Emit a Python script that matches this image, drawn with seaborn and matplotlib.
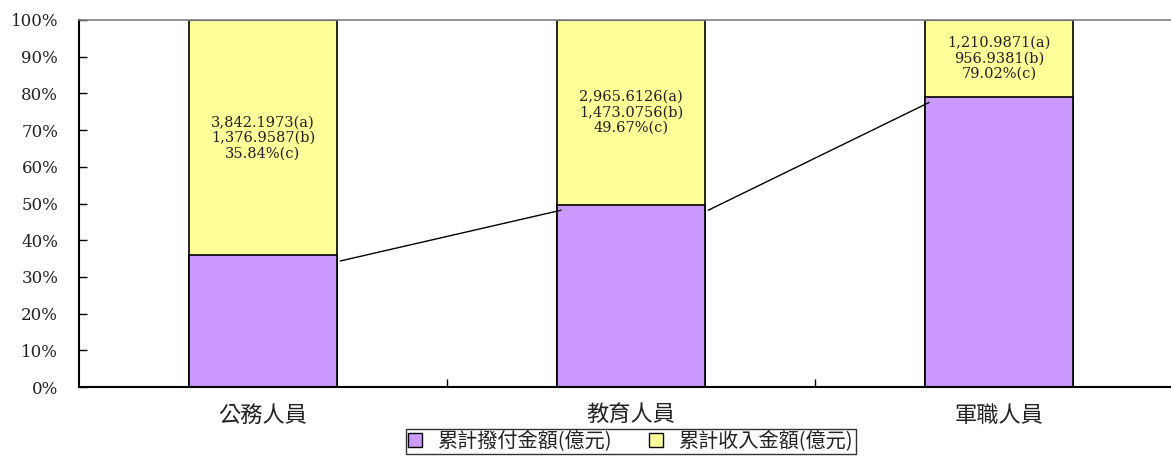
import matplotlib
matplotlib.use("Agg")
import matplotlib.pyplot as plt
from matplotlib.patches import Patch
from matplotlib.ticker import FixedLocator, FuncFormatter
import seaborn as sns
import pandas as pd

categories = ["公務人員", "教育人員", "軍職人員"]
income_a = [3842.1973, 2965.6126, 1210.9871]
paid_b = [1376.9587, 1473.0756, 956.9381]
ratio_c = [35.84, 49.67, 79.02]
series_names = ["累計撥付金額(億元)", "累計收入金額(億元)"]
yticks = [0, 10, 20, 30, 40, 50, 60, 70, 80, 90, 100]

df = pd.DataFrame({"cat": categories, "a": income_a, "b": paid_b, "c": ratio_c})
df["total"] = 100.0

sns.set_theme(style="white")
plt.rcParams["font.family"] = ["Noto Sans CJK TC", "DejaVu Sans"]

purple = "#CC99FF"
yellow = "#FFFF99"

fig = plt.figure(figsize=(11.71, 4.59), dpi=100)
W, H = 1171, 459
left, right, top, bottom = 79, 1183, 20, 387
ax = fig.add_axes([left / W, 1 - bottom / H, (right - left) / W, (bottom - top) / H])

sns.barplot(data=df, x="cat", y="total", color=yellow, width=0.4, edgecolor="black",
            linewidth=1.2, saturation=1, ax=ax)
sns.barplot(data=df, x="cat", y="c", color=purple, width=0.4, edgecolor="black",
            linewidth=1.2, saturation=1, ax=ax)

# series lines
for i in range(len(df) - 1):
    ax.plot([i + 0.21, i + 0.81], [df["c"][i] - 1.5, df["c"][i + 1] - 1.5],
            color="black", lw=1, zorder=3)

# annotations in yellow segment
for i, r in df.iterrows():
    ymid = (r["c"] + 100) / 2
    txt = f"{r['a']:,.4f}(a)\n{r['b']:,.4f}(b)\n{r['c']:.2f}%(c)"
    ax.text(i, ymid, txt, ha="center", va="center", multialignment="center",
            fontsize=10.5, family="DejaVu Serif", color="#222222", linespacing=1.13)

ax.set_xlim(-0.5, 2.5)
ax.set_ylim(0, 100)
ax.set_xlabel("")
ax.set_ylabel("")
ax.yaxis.set_major_locator(FixedLocator(yticks))
ax.yaxis.set_major_formatter(FuncFormatter(lambda v, p: f"{int(v)}%"))
for lab in ax.get_yticklabels():
    lab.set_family("DejaVu Serif")
ax.tick_params(axis="y", direction="in", length=6, width=1, pad=15, labelsize=12, left=True,
               color="black", labelcolor="#222222")
ax.tick_params(axis="x", which="major", length=0, pad=12, labelsize=16, labelcolor="#222222")
ax.xaxis.set_minor_locator(FixedLocator([0.5, 1.5, 2.5]))
ax.tick_params(axis="x", which="minor", direction="in", length=6, width=1, bottom=True, color="black")

for s in ["left", "bottom"]:
    ax.spines[s].set_color("black")
    ax.spines[s].set_linewidth(1.5)
ax.spines["top"].set_color("#808080")
ax.spines["top"].set_linewidth(1.2)
ax.spines["right"].set_visible(False)

handles = [Patch(facecolor=purple, edgecolor="black", label=series_names[0]),
           Patch(facecolor=yellow, edgecolor="black", label=series_names[1])]
leg = ax.legend(handles=handles, loc="upper center", bbox_to_anchor=(0.5, -0.114), ncol=2,
                frameon=True, fontsize=14.5, handlelength=0.7, handleheight=0.7,
                handletextpad=0.8, columnspacing=1.8, borderpad=0.1, fancybox=False,
                borderaxespad=0)
leg.get_frame().set_edgecolor("black")
leg.get_frame().set_linewidth(1)
for t in leg.get_texts():
    t.set_color("#222222")

fig.savefig("out.png", dpi=100)
